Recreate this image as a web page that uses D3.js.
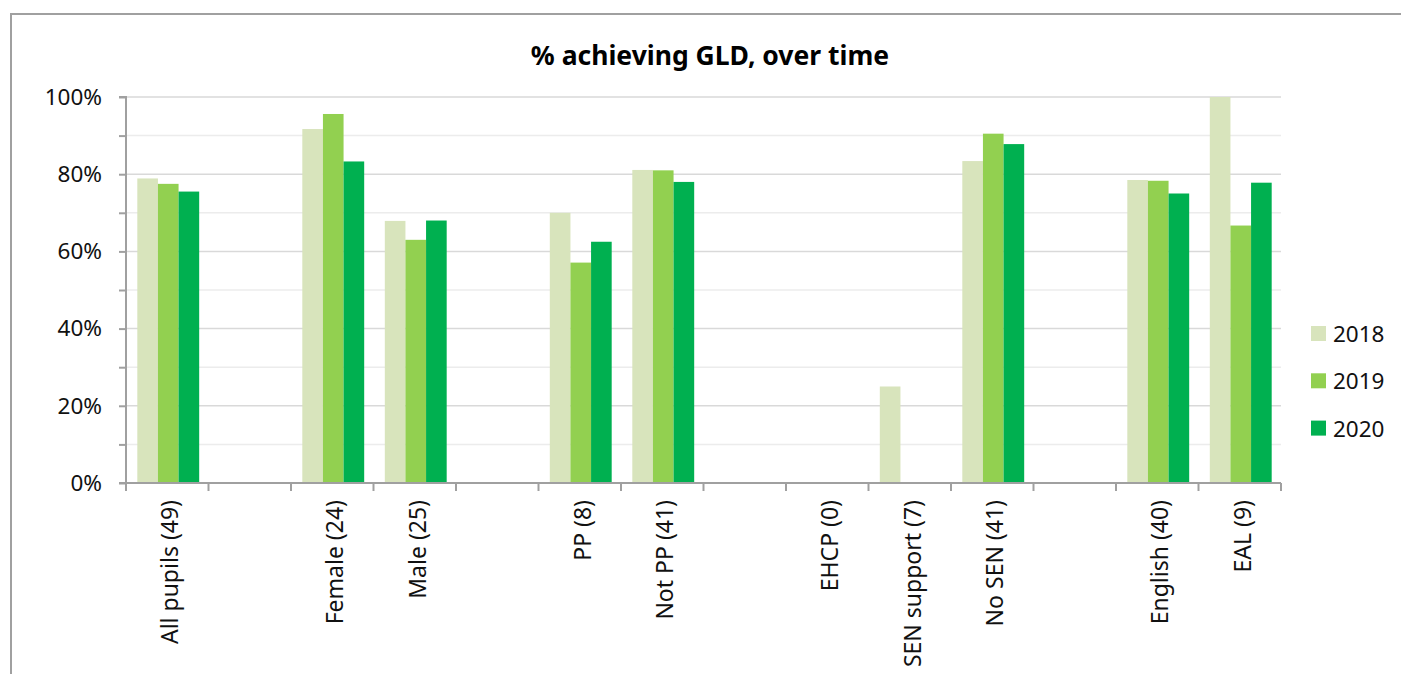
<!DOCTYPE html>
<html>
<head>
<meta charset="utf-8">
<script src="https://cdn.jsdelivr.net/npm/d3@7"></script>
<style>
  html, body { margin: 0; padding: 0; background: #fff; }
  svg { display: block; font-family: "Noto Sans", "Open Sans", sans-serif; }
</style>
</head>
<body>
<svg id="chart" width="1401" height="674"></svg>
<script>
// ---- data ----
const categories = ["All pupils (49)", "", "Female (24)", "Male (25)", "", "PP (8)", "Not PP (41)", "", "EHCP (0)", "SEN support (7)", "No SEN (41)", "", "English (40)", "EAL (9)"];
const years = ["2018", "2019", "2020"];
const values2018 = [78.9, null, 91.7, 67.9, null, 70.0, 81.1, null, null, 25.0, 83.4, null, 78.5, 100];
const values2019 = [77.5, null, 95.6, 63.0, null, 57.1, 81.0, null, null, null, 90.5, null, 78.3, 66.7];
const values2020 = [75.5, null, 83.3, 68.0, null, 62.5, 78.0, null, null, null, 87.8, null, 75.0, 77.8];
const yTicks = [0, 20, 40, 60, 80, 100];
const yMinorTicks = [10, 30, 50, 70, 90];
const title = "% achieving GLD, over time";
const colors = ["#d8e4bc", "#92d050", "#00b050"];

const series = [values2018, values2019, values2020];

const svg = d3.select("#chart");

// frame
svg.append("rect")
  .attr("x", 11).attr("y", 14)
  .attr("width", 1410).attr("height", 700)
  .attr("fill", "none").attr("stroke", "#a0a0a0").attr("stroke-width", 2);

const pLeft = 126, pRight = 1281, pTop = 97, pBottom = 483;

const x0 = d3.scaleBand().domain(d3.range(categories.length)).range([pLeft, pRight])
  .paddingInner(0.25).paddingOuter(0.125);
const xSlot = d3.scaleBand().domain(d3.range(categories.length)).range([pLeft, pRight]);
const x1 = d3.scaleBand().domain(years).range([0, x0.bandwidth()]);
const y = d3.scaleLinear().domain([0, 100]).range([pBottom, pTop]);

// gridlines
const grid = svg.append("g");
grid.selectAll("line.minor").data(yMinorTicks).join("line")
  .attr("class", "minor")
  .attr("x1", pLeft).attr("x2", pRight)
  .attr("y1", d => y(d)).attr("y2", d => y(d))
  .attr("stroke", "#ececec").attr("stroke-width", 1.5);
grid.selectAll("line.major").data(yTicks.filter(d => d > 0)).join("line")
  .attr("class", "major")
  .attr("x1", pLeft).attr("x2", pRight)
  .attr("y1", d => y(d)).attr("y2", d => y(d))
  .attr("stroke", "#d9d9d9").attr("stroke-width", 1.5);

// bars
const groups = svg.append("g").selectAll("g").data(categories.map((c, i) => i)).join("g")
  .attr("transform", i => `translate(${x0(i) + 1},0)`);
groups.selectAll("rect")
  .data(i => years.map((yr, k) => ({ yr, k, v: series[k][i] })).filter(d => d.v != null))
  .join("rect")
  .attr("x", d => x1(d.yr))
  .attr("width", x1.bandwidth())
  .attr("y", d => y(d.v))
  .attr("height", d => pBottom - y(d.v))
  .attr("fill", d => colors[d.k]);

// y axis
const yAxis = d3.axisLeft(y).tickValues(d3.range(0, 101, 10)).tickSize(7)
  .tickFormat(d => yTicks.includes(d) ? d + "%" : "");
const gy = svg.append("g").attr("transform", `translate(${pLeft},0)`).call(yAxis);
gy.select(".domain").attr("stroke", "#a0a0a0").attr("stroke-width", 2).attr("d", `M-7,${pTop}H0V${pBottom}H-7`);
gy.selectAll(".tick line").attr("stroke", "#a0a0a0").attr("stroke-width", 2);
gy.selectAll(".tick text").attr("x", -24).attr("font-size", 22.5).attr("fill", "#111")
  .attr("font-family", "'Noto Sans', sans-serif");

// x axis
const gx = svg.append("g").attr("transform", `translate(0,${pBottom})`);
gx.append("line").attr("x1", pLeft).attr("x2", pRight).attr("y1", 0).attr("y2", 0)
  .attr("stroke", "#a0a0a0").attr("stroke-width", 2);
gx.selectAll("line.tk").data(d3.range(categories.length + 1)).join("line")
  .attr("class", "tk")
  .attr("x1", i => pLeft + i * xSlot.step()).attr("x2", i => pLeft + i * xSlot.step())
  .attr("y1", 0).attr("y2", 8)
  .attr("stroke", "#a0a0a0").attr("stroke-width", 2);
gx.selectAll("text").data(categories.map((c, i) => ({ c, i }))).join("text")
  .attr("transform", d => `translate(${xSlot(d.i) + xSlot.bandwidth() / 2 + 11},17) rotate(-90)`)
  .attr("text-anchor", "end")
  .attr("font-size", 23)
  .attr("fill", "#111")
  .text(d => d.c);

// title
svg.append("text")
  .attr("x", 710).attr("y", 65)
  .attr("text-anchor", "middle")
  .attr("font-size", 26.5).attr("font-weight", "bold").attr("fill", "#000")
  .text(title);

// legend
const lg = svg.append("g").attr("transform", "translate(1311,326)");
const items = lg.selectAll("g").data(years).join("g")
  .attr("transform", (d, i) => `translate(0,${i * 47.3})`);
items.append("rect").attr("width", 15).attr("height", 15).attr("fill", (d, i) => colors[i]);
items.append("text").attr("x", 22).attr("y", 16).attr("font-size", 22.5).attr("fill", "#111").text(d => d);
</script>
</body>
</html>
